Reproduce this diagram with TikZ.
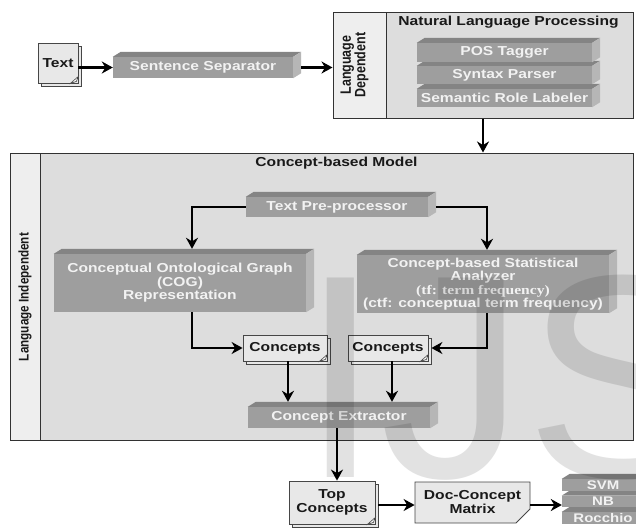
\documentclass[tikz,border=0pt]{standalone}
\usepackage{fontspec}
\setmainfont{Liberation Sans}[FakeStretch=1.2]
\newfontfamily\rotfont{Liberation Sans}
\newfontfamily\serfont{Liberation Serif}[FakeStretch=1.2]
\newfontfamily\wmfont{Liberation Sans}
\usetikzlibrary{arrows.meta,shadows,shapes.misc}
\definecolor{boxfront}{RGB}{158,158,158}
\definecolor{boxtop}{RGB}{132,132,132}
\definecolor{boxside}{RGB}{182,182,182}
\definecolor{boxtext}{RGB}{242,242,242}
\definecolor{panel}{RGB}{221,221,221}
\definecolor{stripc}{RGB}{238,238,238}
\definecolor{frame}{RGB}{50,50,50}
\definecolor{docfill}{RGB}{232,232,232}
\definecolor{docline}{RGB}{70,70,70}
\definecolor{txt}{RGB}{25,25,25}
\definecolor{wmc}{RGB}{226,226,226}
\tikzset{
  arr/.style={line width=2.2pt, -{Stealth[length=11pt,width=12pt,inset=3.5pt]}},
  cube/.style={fill=boxfront, text=boxtext, font=\bfseries\fontsize{13}{13.5}\selectfont, align=center, inner sep=0pt},
  smallcube/.style={cube, font=\bfseries\fontsize{12.5}{12.5}\selectfont},
  doc/.style={fill=docfill, draw=docline, line width=0.8pt, text=txt, font=\bfseries\fontsize{13}{14}\selectfont, align=center, inner sep=0pt, copy shadow={shadow xshift=3pt, shadow yshift=-3pt}},
  note/.style={fill=docfill, draw=docline, line width=0.8pt, text=txt, font=\bfseries\fontsize{13}{14}\selectfont, align=center, inner sep=0pt, chamfered rectangle, chamfered rectangle corners=south east, chamfered rectangle xsep=7pt, chamfered rectangle ysep=7pt},
  container/.style={fill=panel, draw=frame, line width=1pt, inner sep=0pt},
  stripbox/.style={fill=stripc, draw=frame, line width=1pt, inner sep=0pt},
  title/.style={text=txt, font=\bfseries\fontsize{13}{14}\selectfont, inner sep=0pt},
  rotlabel/.style={rotate=90, text=txt, inner sep=0pt, align=center},
}
\newcommand\bevel[1]{%
  \fill[boxtop] (#1.north west) -- ([shift={(8pt,5pt)}]#1.north west) -- ([shift={(8pt,5pt)}]#1.north east) -- (#1.north east) -- cycle;
  \fill[boxside] (#1.north east) -- ([shift={(8pt,5pt)}]#1.north east) -- ([shift={(8pt,5pt)}]#1.south east) -- (#1.south east) -- cycle;}
\newcommand\curl[1]{%
  \filldraw[draw=docline, fill=white, line width=0.6pt] ([xshift=-8pt]#1.south east) -- ([yshift=7pt]#1.south east) -- ([shift={(-2pt,2pt)}]#1.south east) -- cycle;}
\begin{document}
\begin{tikzpicture}[x=1pt,y=-1pt]
\useasboundingbox (0,0) rectangle (636,531);
\clip (0,0) rectangle (636,531);
\fill[white] (0,0) rectangle (636,531);

% ---------- NLP container ----------
\node[container, minimum width=300pt, minimum height=106pt] (nlp) at (483,65) {};
\node[stripbox, minimum width=53pt, minimum height=106pt] (nlpstrip) at (359.5,65) {};
\node[rotlabel, font=\rotfont\bfseries\fontsize{12.5}{13}\selectfont] (ldep) at (355,65)
  {\scalebox{1}[1.2]{\begin{tabular}{@{}c@{}}Language\\[-1pt]Dependent\end{tabular}}};
\node[title] (nlptitle) at (508.5,22.5) {Natural Language Processing};

\node[cube, minimum width=175pt, minimum height=18pt] (srl) at (504.5,98) {Semantic Role Labeler};
\bevel{srl}
\node[cube, minimum width=175pt, minimum height=18pt] (syn) at (504.5,75) {Syntax Parser};
\bevel{syn}
\node[cube, minimum width=175pt, minimum height=19pt] (pos) at (504.5,52.5) {POS Tagger};
\bevel{pos}

% ---------- input ----------
\node[doc, minimum width=40pt, minimum height=40pt] (textdoc) at (58,63) {Text};
\curl{textdoc}
\node[cube, minimum width=180pt, minimum height=21pt] (sentsep) at (203,67.5) {Sentence Separator};
\bevel{sentsep}

% ---------- Concept-based model container ----------
\node[container, minimum width=623pt, minimum height=287pt] (cbm) at (321.5,296.5) {};
\node[stripbox, minimum width=30pt, minimum height=287pt] (cbmstrip) at (25,296.5) {};
\node[rotlabel, font=\rotfont\bfseries\fontsize{11.7}{12}\selectfont] (lind) at (25,297)
  {\scalebox{1}[1.2]{Language Independent}};
\node[title] (cbmtitle) at (336.5,163.5) {Concept-based Model};

\node[cube, minimum width=182pt, minimum height=20pt] (tpp) at (337,207) {Text Pre-processor};
\bevel{tpp}
\node[cube, minimum width=252pt, minimum height=58pt] (cog) at (180,283)
  {Conceptual Ontological Graph\\(COG)\\Representation};
\bevel{cog}
\node[cube, minimum width=252pt, minimum height=58pt] (csa) at (483,284)
  {Concept-based Statistical\\Analyzer\\{\serfont\bfseries (tf: term frequency)}\\(ctf: conceptual term frequency)};
\bevel{csa}

\node[doc, minimum width=84pt, minimum height=26pt] (c1) at (285,348) {Concepts};
\curl{c1}
\node[doc, minimum width=80pt, minimum height=26pt] (c2) at (388,348) {Concepts};
\curl{c2}

\node[cube, minimum width=182pt, minimum height=21pt] (ce) at (339,417.5) {Concept Extractor};
\bevel{ce}

% ---------- output ----------
\node[doc, minimum width=86pt, minimum height=43pt] (topc) at (332,502.5) {Top\\Concepts};
\curl{topc}
\node[note, minimum width=115pt, minimum height=41pt] (dcm) at (472.5,502.5) {Doc-Concept\\Matrix};

\node[smallcube, minimum width=82pt, minimum height=12pt] (roc) at (603,518) {Rocchio};
\bevel{roc}
\node[smallcube, minimum width=82pt, minimum height=11.5pt] (nb) at (603,501.5) {NB};
\bevel{nb}
\node[smallcube, minimum width=82pt, minimum height=12pt] (svm) at (603,485) {SVM};
\bevel{svm}

% ---------- connectors ----------
\draw[arr] (sentsep.west -| textdoc.east) -- (sentsep.west);
\draw[arr] ([xshift=8pt]sentsep.east) -- (sentsep.east -| nlp.west);
\draw[arr] (nlp.south) -- (nlp.south |- cbm.north);

\coordinate (cogtop) at ([shift={(12pt,5pt)}]cog.north);
\coordinate (csatop) at ([shift={(4pt,5pt)}]csa.north);
\draw[arr] (tpp.west) -| (cogtop);
\draw[arr] ([xshift=8pt]tpp.east) -| (csatop);
\draw[arr] ([xshift=12pt]cog.south) |- (c1.west);
\draw[arr] ([xshift=4pt]csa.south) |- ([xshift=3pt]c2.east);

\coordinate (cetop) at ([yshift=5pt]ce.north);
\coordinate (c1b) at ([xshift=3pt]c1.south);
\coordinate (c2b) at ([xshift=4pt]c2.south);
\draw[arr] (c1b) -- (c1b |- cetop);
\draw[arr] (c2b) -- (c2b |- cetop);

\coordinate (ceb) at ([xshift=-2pt]ce.south);
\draw[arr] (ceb) -- (ceb |- topc.north);
\draw[arr] ([shift={(3pt,-2.5pt)}]topc.east) -- ([yshift=-2.5pt]dcm.west);
\coordinate (dcme) at ([yshift=-2.5pt]dcm.east);
\draw[arr] (dcme) -- (dcme -| nb.west);

% ---------- watermark ----------
\begin{scope}[blend mode=multiply]
\node[anchor=base west, inner sep=0pt, text=wmc, font=\wmfont\fontsize{290}{300}\selectfont] (wm) at (300,477) {IJS};
\end{scope}
\end{tikzpicture}
\end{document}
